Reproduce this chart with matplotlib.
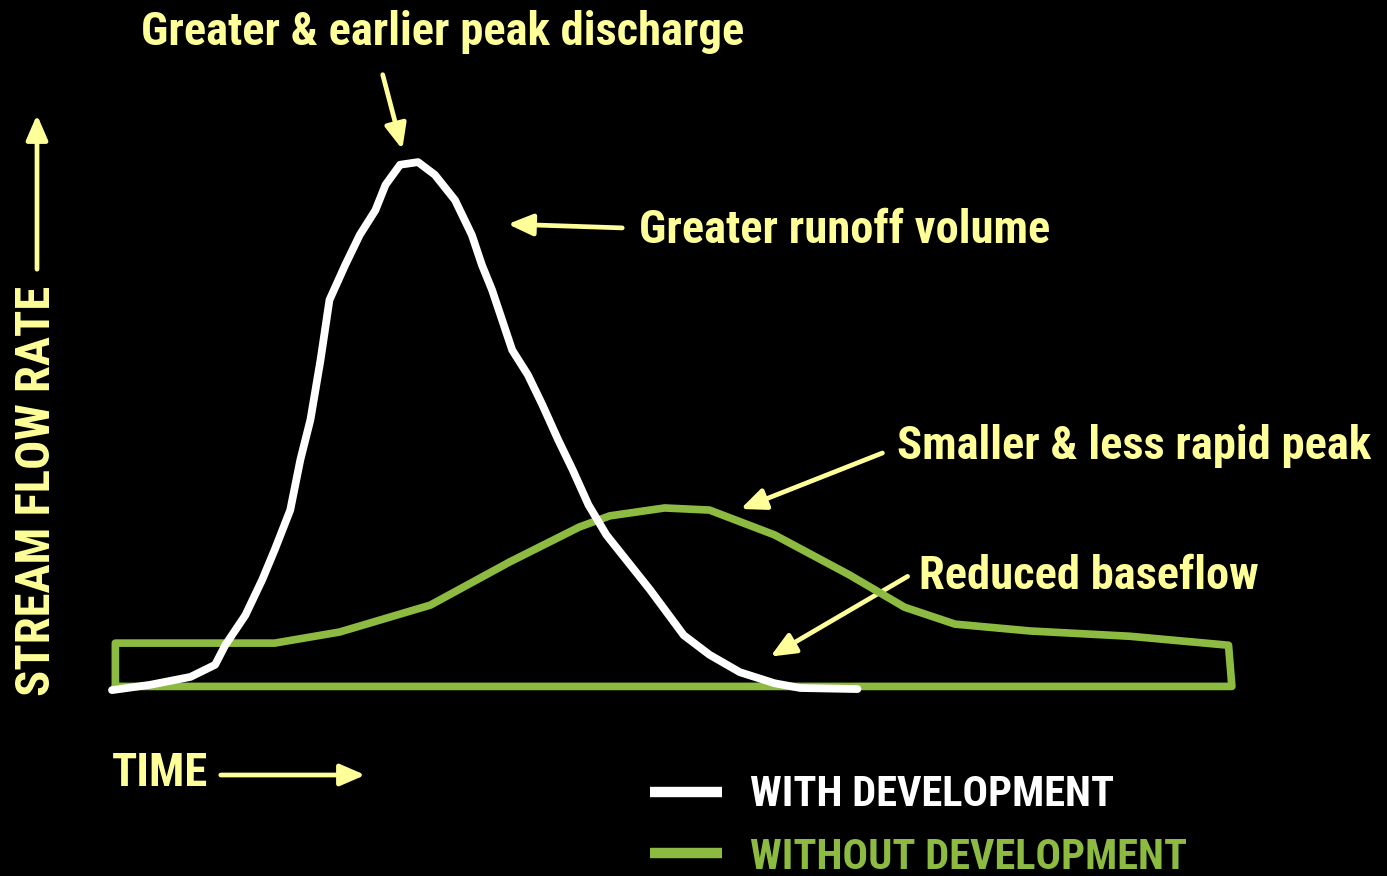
import matplotlib
matplotlib.use("Agg")
import matplotlib.pyplot as plt
from matplotlib import font_manager

# ---------------- data ----------------
# With development (urban) hydrograph: time, flow (arbitrary units)
with_t = [0.0, 3.4, 7.0, 9.2, 10.1, 11.9, 13.4, 14.5, 15.9, 16.8, 17.7, 18.6, 19.4,
          20.8, 22.1, 23.5, 24.4, 25.7, 27.3, 28.8, 30.6, 32.1, 33.0, 33.9, 34.8,
          35.7, 37.1, 38.4, 39.8, 41.1, 42.5, 44.1, 45.9, 48.0, 51.0, 53.3, 56.0, 59.1, 61.4, 66.5]
with_f = [-0.4, 0.6, 2.1, 4.4, 8.1, 13.8, 20.5, 26.1, 33.7, 43.2, 50.8, 62.1, 73.5,
          80.1, 85.8, 90.5, 95.3, 99.1, 99.6, 97.2, 92.4, 85.8, 80.1, 75.4, 69.7,
          64.0, 59.3, 53.6, 47.0, 41.3, 34.7, 29.0, 24.2, 18.6, 10.0, 6.3, 3.0, 0.9, 0.0, -0.2]

# Without development (natural) hydrograph, closed outline down to baseline
without_t = [0.3, 0.3, 14.5, 20.3, 28.4, 35.5, 41.7, 44.4, 49.3, 53.3, 59.1, 65.8,
             70.7, 75.2, 81.9, 90.8, 99.6, 99.9, 0.3]
without_f = [0.3, 8.5, 8.5, 10.6, 15.7, 23.9, 30.5, 32.6, 34.1, 33.7, 29.0, 21.4,
             15.3, 12.1, 10.8, 9.8, 8.1, 0.3, 0.3]

title_text = "Greater & earlier peak discharge"
notes = ["Greater runoff volume", "Smaller & less rapid peak", "Reduced baseflow"]
y_label = "STREAM FLOW RATE"
x_label = "TIME"
legend_labels = ["WITH DEVELOPMENT", "WITHOUT DEVELOPMENT"]

# ---------------- style ----------------
W, H = 1387, 876
YEL = "#FFFF99"
GRN = "#8DBB41"
avail = {f.name for f in font_manager.fontManager.ttflist}
cands = ["Liberation Sans Narrow", "Arial Narrow", "Roboto Condensed",
         "Archivo Narrow", "PT Sans Narrow", "Liberation Sans"]
fam = [c for c in cands if c in avail][:1] + ["DejaVu Sans"]

fig = plt.figure(figsize=(W / 100, H / 100), dpi=100, facecolor="black")

# overlay axes in pixel space for annotations
ov = fig.add_axes([0, 0, 1, 1])
ov.set_xlim(0, W)
ov.set_ylim(H, 0)
ov.axis("off")
ov.set_facecolor("black")

# data axes
x0, x1 = 112, 1233
y0, y1 = 688, 160
ax = fig.add_axes([x0 / W, 1 - y0 / H, (x1 - x0) / W, (y0 - y1) / H])
ax.set_xlim(0, 100)
ax.set_ylim(0, 100)
ax.axis("off")
ax.patch.set_alpha(0)

ax.plot(without_t, without_f, color=GRN, lw=5.5, solid_joinstyle="round",
        solid_capstyle="round", clip_on=False)
ax.plot(with_t, with_f, color="white", lw=5.6, solid_joinstyle="round",
        solid_capstyle="round", clip_on=False)

FS = 33.6
tk = dict(family=fam, weight="bold", color=YEL, va="baseline", ha="left")
ov.text(141, 45, title_text, fontsize=FS, **tk)
ov.text(639, 243, notes[0], fontsize=FS, **tk)
ov.text(897, 459, notes[1], fontsize=FS, **tk)
ov.text(919, 589, notes[2], fontsize=FS, **tk)
ov.text(112, 786, x_label, fontsize=FS, **tk)
ov.text(50, 696, y_label, fontsize=35, rotation=90, rotation_mode="anchor", **tk)

arrow = dict(arrowstyle="-|>,head_length=1.5,head_width=0.65", color=YEL, lw=3.4)
for (sx, sy), (ex, ey) in [((382, 72), (403, 152)), ((625, 228), (505, 224)),
                           ((885, 452), (738, 510)), ((910, 575), (768, 658)),
                           ((218, 775), (368, 775)), ((37, 272), (37, 112))]:
    ov.annotate("", xy=(ex, ey), xytext=(sx, sy), arrowprops=arrow)

# legend
ov.plot([650, 722], [792, 792], color="white", lw=7.5, solid_capstyle="butt")
ov.plot([650, 722], [853, 853], color=GRN, lw=7.5, solid_capstyle="butt")
ov.text(750, 806, legend_labels[0], fontsize=30.5, ha="left", va="baseline",
        family=fam, weight="bold", color="white")
ov.text(750, 869, legend_labels[1], fontsize=30.5, ha="left", va="baseline",
        family=fam, weight="bold", color=GRN)

fig.savefig("out.png", dpi=100, facecolor="black")
